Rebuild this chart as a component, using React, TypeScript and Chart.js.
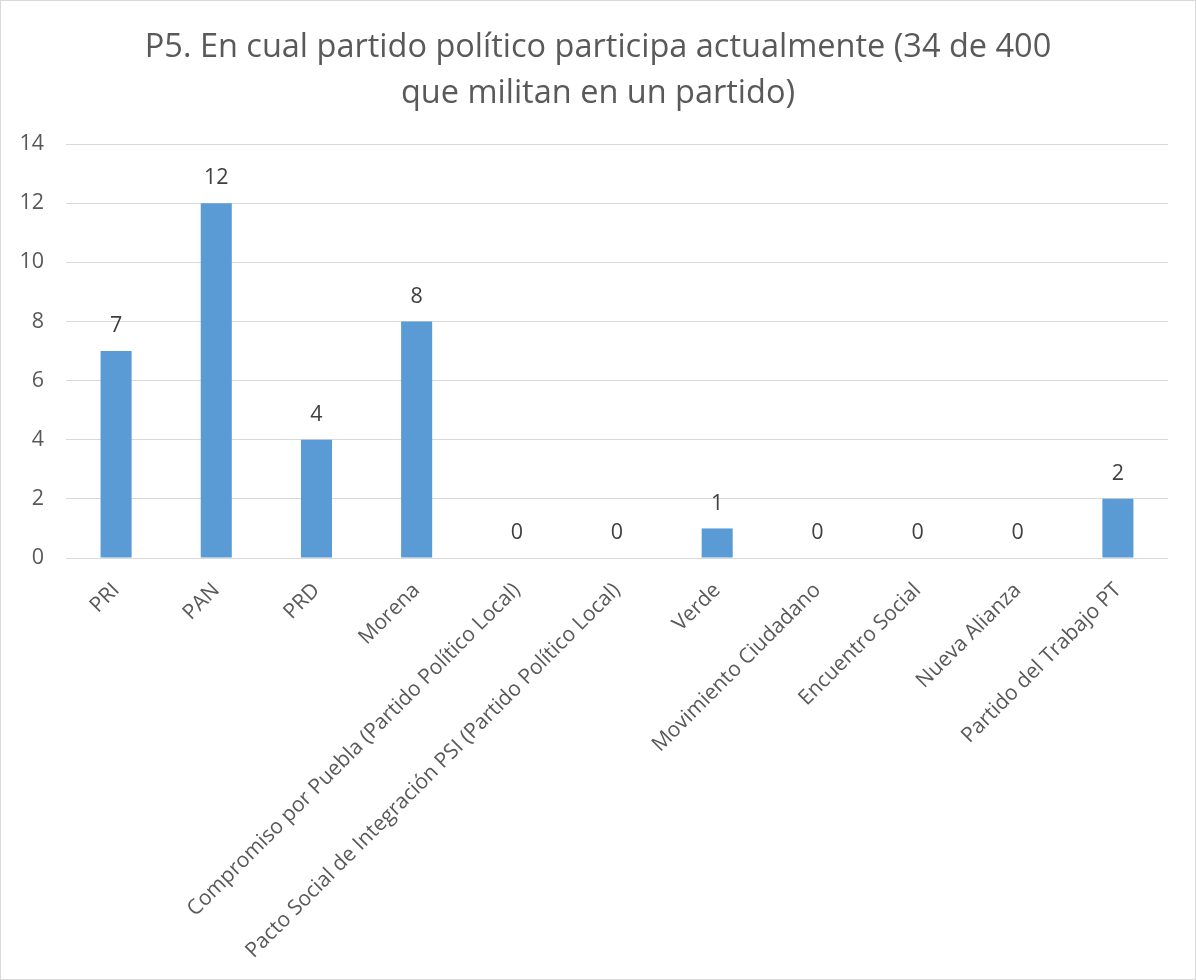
import React, { useEffect, useRef } from "react";
import { Chart, registerables } from "chart.js";

Chart.register(...registerables);

const categories = [
  "PRI",
  "PAN",
  "PRD",
  "Morena",
  "Compromiso por Puebla (Partido Político Local)",
  "Pacto Social de Integración PSI (Partido Político Local)",
  "Verde",
  "Movimiento Ciudadano",
  "Encuentro Social",
  "Nueva Alianza",
  "Partido del Trabajo PT",
];
const values = [7, 12, 4, 8, 0, 0, 1, 0, 0, 0, 2];
const titleLines = [
  "P5. En cual partido político participa actualmente (34 de 400",
  "que militan en un partido)",
];
const yMin = 0;
const yMax = 14;
const yStep = 2;

const FONT = "'Open Sans', 'Noto Sans', sans-serif";

const valueLabels = {
  id: "valueLabels",
  afterDatasetsDraw(chart: any) {
    const ctx = chart.ctx;
    const meta = chart.getDatasetMeta(0);
    ctx.save();
    ctx.fillStyle = "#404040";
    ctx.font = `21.5px ${FONT}`;
    ctx.textAlign = "center";
    ctx.textBaseline = "middle";
    meta.data.forEach((el: any, i: number) => {
      ctx.fillText(String(chart.data.datasets[0].data[i]), el.x, el.y - 25);
    });
    ctx.restore();
  },
};

const frame = {
  id: "frame",
  beforeDraw(chart: any) {
    const ctx = chart.ctx;
    ctx.save();
    ctx.fillStyle = "#ffffff";
    ctx.fillRect(0, 0, chart.width, chart.height);
    ctx.restore();
  },
  afterDraw(chart: any) {
    const ctx = chart.ctx;
    ctx.save();
    ctx.strokeStyle = "#d9d9d9";
    ctx.lineWidth = 1;
    ctx.strokeRect(0.5, 0.5, chart.width - 1, chart.height - 1);
    ctx.restore();
  },
};

export default function App() {
  const ref = useRef<HTMLCanvasElement | null>(null);
  useEffect(() => {
    if (!ref.current) return;
    const chart = new Chart(ref.current, {
      type: "bar",
      data: {
        labels: categories,
        datasets: [
          {
            data: values,
            backgroundColor: "#5B9BD5",
            borderWidth: 0,
            barPercentage: 0.31,
            categoryPercentage: 1,
          },
        ],
      },
      options: {
        responsive: false,
        animation: false,
        devicePixelRatio: 1,
        layout: { padding: 0 },
        plugins: {
          legend: { display: false },
          tooltip: { enabled: false },
          title: {
            display: true,
            text: titleLines,
            color: "#595959",
            font: { family: FONT, size: 32.5, weight: "normal", lineHeight: 1.4 },
            padding: { top: 25, bottom: 28 },
          },
        },
        scales: {
          x: {
            grid: { display: false, drawTicks: false },
            border: { display: false },
            ticks: {
              color: "#595959",
              font: { family: FONT, size: 21 },
              minRotation: 45,
              maxRotation: 45,
              autoSkip: false,
              padding: 20,
            },
            afterFit(scale: any) {
              scale.height = 422;
            },
          },
          y: {
            min: yMin,
            max: yMax,
            grid: { color: "#d9d9d9", drawTicks: false, lineWidth: 1 },
            border: { display: false },
            ticks: {
              stepSize: yStep,
              color: "#595959",
              font: { family: FONT, size: 21.5 },
              padding: 22,
            },
            afterFit(scale: any) {
              scale.width = 66;
            },
          },
          yRight: {
            type: "linear",
            position: "right",
            min: yMin,
            max: yMax,
            grid: { display: false, drawTicks: false },
            border: { display: false },
            ticks: { display: false },
            afterFit(scale: any) {
              scale.width = 28;
            },
          },
        },
      },
      plugins: [frame, valueLabels],
    });
    return () => chart.destroy();
  }, []);
  return (
    <div style={{ position: "absolute", left: 0, top: 0, width: 1196, height: 980 }}>
      <canvas ref={ref} width={1196} height={980} style={{ display: "block" }} />
    </div>
  );
}
